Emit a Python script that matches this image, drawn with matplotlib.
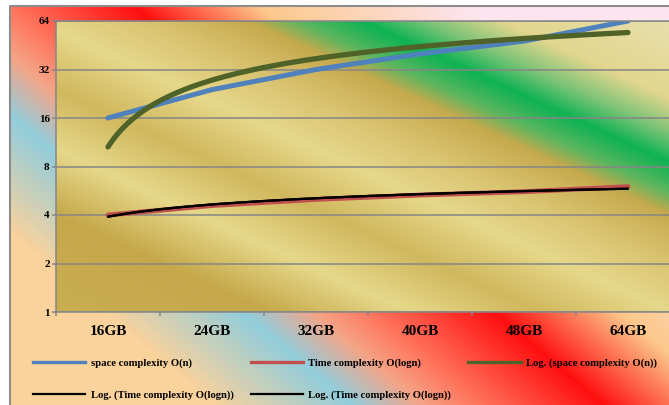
import matplotlib
matplotlib.use("Agg")
import matplotlib.pyplot as plt
import numpy as np
from matplotlib.colors import LinearSegmentedColormap
from matplotlib.lines import Line2D
from matplotlib.ticker import NullLocator

sizes = ["16GB", "24GB", "32GB", "40GB", "48GB", "64GB"]
space_n = [16, 24, 32, 40, 48, 64]
time_logn = [4, 4.58, 5, 5.32, 5.58, 6]
y_ticks = [1, 2, 4, 8, 16, 32, 64]

W, H = 669, 405
plt.rcParams['font.family'] = ['Liberation Serif', 'DejaVu Serif']
plt.rcParams['font.weight'] = 'bold'

fig = plt.figure(figsize=(W / 100, H / 100), dpi=100)
fig.patch.set_facecolor('white')


def ramp(stops, vals):
    lo, hi = stops[0][0], stops[-1][0]
    cmap = LinearSegmentedColormap.from_list(
        'fill', [((p - lo) / (hi - lo), c) for p, c in stops])
    return cmap(np.clip((vals - lo) / (hi - lo), 0, 1))


# chart area: diagonal red / peach / blue fill
chart_stops = [(-470, '#FAD29C'), (-265, '#FAD29C'), (-126, '#92CDDC'),
               (-55, '#F5A487'), (-2, '#FF7860'), (126, '#FF0F0F'),
               (253, '#FCC98C'), (458, '#FDE4EE'), (665, '#FDE6F0')]
px, py = np.meshgrid(np.arange(W) + 0.5, np.arange(H) + 0.5)
img = ramp(chart_stops, px - 1.18 * py)
img[(py < 6) | (px < 10)] = (1, 1, 1, 1)
bg = fig.add_axes([0, 0, 1, 1], zorder=-2)
bg.imshow(img, extent=[0, W, H, 0], aspect='auto', interpolation='bilinear')
bg.plot([10, 10, W + 5], [H + 5, 6, 6], color='#8c8c8c', lw=1.5)
bg.set_xlim(0, W)
bg.set_ylim(H, 0)
bg.axis('off')

# plot area: gold stripes with a green band
L, T, R, B = 56, 21, 680, 312
pos = [L / W, 1 - B / H, (R - L) / W, (B - T) / H]
plot_stops = [(-266, '#E9DFAE'), (-185, '#E3D68F'), (-150, '#7EC477'),
              (-120, '#0DB254'), (-90, '#5DB65E'), (-68, '#C5A94E'),
              (-20, '#D9C370'), (30, '#E6D88A'), (90, '#D0B85E'),
              (150, '#E6D88A'), (215, '#C5A84A'), (312, '#C9AE52')]
qx, qy = np.meshgrid(np.arange(L, R) + 0.5, np.arange(T, B) + 0.5)
pbg = fig.add_axes(pos, zorder=-1)
pbg.imshow(ramp(plot_stops, qy - 0.46 * (qx - L)), aspect='auto',
           interpolation='bilinear')
pbg.axis('off')

ax = fig.add_axes(pos, zorder=1)
ax.patch.set_alpha(0)

x = np.arange(len(sizes))
ax.plot(x, space_n, color='#4F81BD', lw=3.6, solid_capstyle='round')
ax.plot(x, time_logn, color='#C0504D', lw=3.5, solid_capstyle='round')

# logarithmic trendlines, fitted on category index 1..6
idx = np.arange(1, len(sizes) + 1)
xs = np.linspace(1, len(sizes), 300)
a1, b1 = np.polyfit(np.log(idx), space_n, 1)
a2, b2 = np.polyfit(np.log(idx), time_logn, 1)
ax.plot(xs - 1, a1 * np.log(xs) + b1, color='#4F6228', lw=3.8,
        solid_capstyle='round')
ax.plot(xs - 1, a2 * np.log(xs) + b2, color='black', lw=1.6,
        solid_capstyle='round')
ax.plot(xs - 1, a2 * np.log(xs) + b2, color='black', lw=1.6,
        solid_capstyle='round')

ax.set_yscale('log', base=2)
ax.set_ylim(1, 64)
ax.set_xlim(-0.5, len(sizes) - 0.5)
ax.set_yticks(y_ticks)
ax.set_yticklabels([str(v) for v in y_ticks], fontsize=8, fontweight='bold')
ax.yaxis.set_minor_locator(NullLocator())
ax.yaxis.grid(True, color='#868686', lw=1.1)
ax.set_axisbelow(True)

ax.set_xticks(np.arange(-0.5, len(sizes), 1))
ax.set_xticklabels([])
ax.set_xticks(x, minor=True)
ax.set_xticklabels(sizes, minor=True, fontsize=11, fontweight='bold')
ax.tick_params(axis='x', which='minor', length=0, pad=9.5)
ax.tick_params(axis='x', which='major', length=3, width=1.1, color='#868686')
ax.tick_params(axis='y', which='major', length=3, width=1.1, color='#868686', pad=1.5)

for side in ['left', 'bottom', 'top']:
    ax.spines[side].set_color('#868686')
    ax.spines[side].set_linewidth(1.1)
ax.spines['right'].set_visible(False)

handles = [
    Line2D([], [], color='#4F81BD', lw=2.4),
    Line2D([], [], color='black', lw=1.6),
    Line2D([], [], color='#C0504D', lw=2.4),
    Line2D([], [], color='black', lw=1.6),
    Line2D([], [], color='#4F6228', lw=2.4),
]
labels = ['space complexity O(n)', 'Log. (Time complexity O(logn))',
          'Time complexity O(logn)', 'Log. (Time complexity O(logn))',
          'Log. (space complexity O(n))']
fig.legend(handles, labels, loc='upper left',
           bbox_to_anchor=(33 / W, 1 - 358 / H), ncol=3, frameon=False,
           borderpad=0, borderaxespad=0, prop={'size': 7.7, 'weight': 'bold'},
           handlelength=4.9, handletextpad=0.5, columnspacing=1.6,
           labelspacing=2.1)

fig.savefig('out.png', dpi=100)
